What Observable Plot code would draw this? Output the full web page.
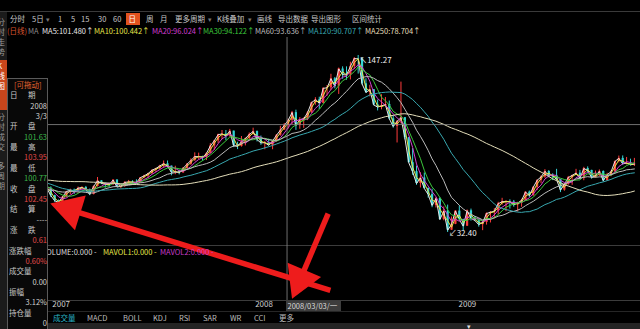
<!DOCTYPE html>
<html><head><meta charset="utf-8">
<script src="https://cdn.jsdelivr.net/npm/d3@7"></script>
<script src="https://cdn.jsdelivr.net/npm/@observablehq/plot@0.6"></script>
<style>
html,body{margin:0;padding:0;background:#000;overflow:hidden}
#root{position:relative;width:640px;height:329px;background:#000;overflow:hidden;font-family:"Noto Sans CJK SC","Noto Sans",sans-serif;color:#c8c8c8}
.t{position:absolute;white-space:nowrap;line-height:1;transform:translateY(-50%)}
.b{position:absolute}
#root svg{position:absolute;left:0;top:0}
</style></head><body><div id="root"></div><script>
// ---------------- data ----------------
// weekly closes of 2006 (only needed to warm up the long moving averages)
const closes2006 = [64.21,63.92,68.35,67.76,65.37,61.84,59.88,61.10,63.67,60.17,62.69,64.26,66.63,67.39,69.32,75.17,71.88,70.19,72.04,68.53,71.37,72.33,71.63,69.89,70.87,73.93,74.09,77.03,74.43,74.54,75.10,74.35,71.14,72.51,69.20,66.25,63.33,60.55,62.91,59.76,58.57,56.82,60.75,59.14,59.58,55.81,60.00,62.97,62.03,63.43,62.41,61.05];
// weekly candles, first week of 2007 .. Nov 2009
const weekOpen = [61.05,56.30,53.00,52.00,55.40,59.00,59.90,59.40,61.10,61.60,60.00,57.10,62.30,65.90,64.30,63.60,63.40,66.50,61.90,62.40,64.90,65.20,65.10,64.80,68.00,69.20,70.70,72.80,73.90,75.60,77.00,75.50,71.50,72.00,71.10,74.00,76.70,79.10,81.60,81.70,81.20,83.70,88.60,91.90,95.90,96.30,95.10,98.20,88.70,88.30,91.30,93.30,
96.00,97.90,92.70,90.60,90.70,89.00,91.80,95.50,98.80,101.80,105.20,110.20,101.80,105.60,106.20,110.10,116.70,118.50,116.30,126.00,126.30,132.20,127.40,138.50,134.90,134.60,140.20,145.30,145.10,128.90,123.30,125.10,115.20,113.80,114.60,115.50,106.20,101.20,104.60,106.90,93.90,77.70,71.90,64.20,67.80,61.00,57.00,49.90,54.40,40.80,46.30,33.90,
37.70,46.30,40.80,36.50,46.50,41.70,40.20,37.50,38.90,44.80,45.50,46.30,51.10,52.40,52.50,52.20,50.30,51.60,53.20,58.60,56.30,61.70,66.30,68.40,72.00,69.60,69.20,66.70,59.90,63.60,68.10,69.50,70.90,67.50,73.90,72.70,68.00,69.30,72.00,66.00,70.00,71.80,78.50,80.50,77.00,77.40,76.40];
const weekHigh = [62.00,56.60,53.50,55.80,59.10,60.50,60.60,61.90,62.10,62.30,60.60,62.60,68.10,66.00,64.50,64.00,66.60,66.50,63.50,65.30,66.20,66.00,66.60,68.10,69.60,70.80,72.90,74.10,76.00,78.80,78.80,75.50,75.40,72.90,74.60,77.20,80.20,84.10,83.90,81.90,84.10,90.10,92.20,96.20,98.60,98.60,99.30,98.20,91.00,94.70,93.70,97.00,
100.10,98.30,95.00,91.50,93.00,91.80,96.00,101.30,103.10,106.00,111.00,111.80,107.00,106.80,111.00,117.00,119.90,120.20,126.30,127.80,135.10,133.00,139.10,139.90,139.90,142.90,145.90,147.27,145.90,132.20,127.90,125.10,118.30,121.80,120.00,117.70,108.00,104.90,130.00,107.00,94.00,86.80,75.50,71.20,71.00,61.30,60.50,55.00,55.00,49.00,50.20,42.50,
46.60,49.60,41.00,47.00,47.60,42.80,40.90,39.90,45.10,46.00,47.90,52.00,54.60,53.10,53.60,53.20,52.00,54.00,58.70,59.30,62.20,66.40,69.10,73.20,72.60,70.50,73.40,66.90,64.00,68.80,69.50,73.40,72.70,74.70,75.00,72.80,72.30,73.00,72.40,70.80,72.30,78.70,82.00,82.10,81.10,80.00,80.50];
const weekLow = [55.10,51.90,49.90,51.30,55.00,56.90,57.10,58.00,60.20,59.60,56.30,56.80,61.90,63.50,61.20,61.70,63.00,61.40,60.90,61.70,63.10,63.10,64.10,64.40,67.20,67.40,70.10,71.20,73.00,74.10,74.20,69.20,69.90,69.80,70.80,73.50,76.00,78.50,79.60,78.70,79.10,83.30,85.60,90.20,92.60,92.00,94.30,87.50,86.20,87.80,88.60,92.60,
95.60,91.20,89.00,86.10,88.70,86.10,91.00,94.90,98.70,99.50,102.40,98.70,99.40,100.00,105.00,109.80,115.00,112.20,116.00,120.90,124.50,125.60,122.00,131.80,131.20,131.40,138.20,135.20,128.10,122.60,120.40,114.60,111.30,112.00,114.00,105.50,100.10,90.50,103.00,92.60,77.50,69.50,63.00,61.30,60.50,54.70,48.50,48.30,40.50,40.00,32.40,33.80,
37.50,40.50,33.20,36.30,39.80,39.50,35.90,33.60,37.20,38.60,41.20,44.00,50.10,45.90,47.60,48.80,45.70,48.80,52.70,55.20,56.00,59.70,64.10,67.60,67.90,66.10,66.50,58.30,59.20,63.10,63.00,69.30,67.00,66.00,70.90,67.00,67.80,68.80,65.10,65.90,68.60,71.40,77.60,76.00,76.30,75.60,75.20];
const weekClose = [56.31,52.99,51.99,55.42,59.02,59.89,59.39,61.14,61.64,60.05,57.11,62.28,65.87,64.28,63.63,63.38,66.46,61.93,62.37,64.94,65.20,65.08,64.76,68.00,69.18,70.68,72.81,73.93,75.57,77.02,75.48,71.47,71.98,71.09,74.04,76.70,79.10,81.62,81.66,81.22,83.69,88.60,91.86,95.93,96.32,95.10,98.18,88.71,88.28,91.27,93.31,96.00,
97.91,92.69,90.57,90.71,88.96,91.77,95.50,98.81,101.84,105.15,110.21,101.84,105.62,106.23,110.14,116.69,118.52,116.32,125.96,126.29,132.19,127.35,138.54,134.86,134.62,140.21,145.29,145.08,128.88,123.26,125.10,115.20,113.77,114.59,115.46,106.23,101.18,104.55,106.89,93.88,77.70,71.85,64.15,67.81,61.04,57.04,49.93,54.43,40.81,46.28,33.87,37.71,
46.34,40.83,36.51,46.47,41.68,40.17,37.51,38.94,44.76,45.52,46.25,51.06,52.38,52.51,52.24,50.33,51.55,53.20,58.63,56.34,61.67,66.31,68.44,72.04,69.55,69.16,66.73,59.89,63.56,68.05,69.45,70.93,67.51,73.89,72.74,68.02,69.29,72.04,66.02,69.95,71.77,78.53,80.50,77.00,77.43,76.35,76.72];
const firstWeek = "2006-01-04";          // Wednesday of the first week in the table

const maNames  = ["MA5","MA10","MA20","MA30","MA60","MA120","MA250"];
const maWeeks  = [1,2,4,6,12,24,50];     // daily windows expressed in weeks
const maValues = ["101.480","100.442","96.024","94.122","93.636","90.707","78.704"];

const crossDateStr = "2008-03-03";
const crossLabel = "2008/03/03/一";
const crossClose = 102.45;
const prevClose = 101.84;

const yearStarts = ["2007-01-02","2008-01-02","2009-01-02"];

const toolbarItems = ["分时","5日","▾","1","5","15","30","60","日","周","月","更多周期","▾","K线叠加","▾","画线","导出数据","导出图形","区间统计"];
const infoTitle = "[可拖动]";
const infoFields = [["日","期"],["开","盘"],["最","高"],["最","低"],["收","盘"],["结","算"],["涨","跌"],["涨跌幅"],["成交量"],["振幅"],["持仓量"]];
const infoValues = [["2008","3/3"],["101.63"],["103.95"],["100.77"],["102.45"],["----"],["0.61"],["0.60%"],["0.00"],["3.12%"],["0"]];
const volumeLegend = ["VOLUME:0.000 -","MAVOL1:0.000 -","MAVOL2:0.000 -"];
const tabs = ["成交量","MACD","BOLL","KDJ","RSI","SAR","WR","CCI","更多"];
const sideTabs = ["分时走势","K线图","分时成交","多周期"];

// annotation arrows (date, price units)
const arrowTails = [{x:"2008-05-20", y:-5.2},{x:"2008-05-16", y:44.7}];
const arrowTips  = [{x:"2007-01-02", y:51.2},{x:"2008-03-12", y:-10.6}];

// ---------------- layout / style ----------------
const W = 640, H = 329;
const mL = 47, mT = 37, mB = 84;
const UP = "#ff3c3c", DOWN = "#33d4d4", RED = "#ee1c1c";
const maColors = ["#e8e8e8","#e6e64a","#d23ed2","#3cc83c","#bcbcbc","#38a8b0","#e4deba"];
const toolbarX = [10,32,46,58,71,81,98,113,128.5,146,160,175,208,217,248,257,278,311,352];
const legendX = [42,94,152,203,255,308,365];
const tabX = [53,87,123,153,179,203,230,254,279];
const volX = [42,103,160];
const volColors = ["#dddddd","#e6e64a","#c93cc9"];
const HEAD_R = 13.5;

const root = document.getElementById("root");
function put(txt, x, y, color, size, extra) {
  const e = document.createElement("div");
  e.className = "t"; e.textContent = txt;
  Object.assign(e.style, {left: x + "px", top: y + "px", color, fontSize: size + "px"}, extra || {});
  root.appendChild(e); return e;
}
function box(x, y, w, h, bg, extra) {
  const e = document.createElement("div");
  e.className = "b";
  Object.assign(e.style, {left: x + "px", top: y + "px", width: w + "px", height: h + "px", background: bg}, extra || {});
  root.appendChild(e); return e;
}

// ---------------- table ----------------
const wk = d3.utcWednesday;
const N = closes2006.length + weekClose.length;
const start = new Date(firstWeek);
const dates = wk.range(start, wk.offset(start, N));
const rows = dates.map((date, i) => {
  const j = i - closes2006.length;
  return j < 0 ? {date, close: closes2006[i]}
               : {date, open: weekOpen[j], high: weekHigh[j], low: weekLow[j], close: weekClose[j]};
});
const candles = rows.filter(d => d.open != null);
const dir = d => d.close >= d.open ? UP : DOWN;

const xOpts = {type: "utc", domain: [new Date("2006-12-28"), new Date("2009-11-29")]};
const yOpts = {type: "linear", domain: [23.97, 158.95]};
const sx = Plot.scale({x: {...xOpts, range: [mL, W]}});
const sy = Plot.scale({y: {...yOpts, range: [H - mB, mT]}});

// arrows: shaft + filled triangular head computed through the scales
const HEAD_BACK = 1.555 * HEAD_R;   // centroid-to-tip distance of the triangle symbol
const shafts = [], heads = [];
arrowTails.forEach((t, i) => {
  const a = arrowTips[i];
  const X1 = sx.apply(new Date(t.x)), Y1 = sy.apply(t.y), X2 = sx.apply(new Date(a.x)), Y2 = sy.apply(a.y);
  const L = Math.hypot(X2 - X1, Y2 - Y1), ux = (X2 - X1) / L, uy = (Y2 - Y1) / L;
  const cx = sx.invert(X2 - ux * HEAD_BACK), cy = sy.invert(Y2 - uy * HEAD_BACK);
  shafts.push({x1: new Date(t.x), y1: t.y, x2: cx, y2: cy});
  heads.push({x: cx, y: cy, rotate: Math.atan2(ux, -uy) * 180 / Math.PI});
});

const marks = [
  Plot.ruleX(candles, {x: "date", y1: "low", y2: "high", stroke: dir, strokeWidth: 1, clip: true}),
  Plot.ruleX(candles, {x: "date", y1: "open", y2: "close", stroke: dir, strokeWidth: 2.2, clip: true}),
  ...maWeeks.map((k, i) => Plot.lineY(rows, Plot.windowY({k, anchor: "end"}, {x: "date", y: "close", stroke: maColors[i], strokeWidth: 1, clip: true}))),
  Plot.ruleX([new Date(crossDateStr)], {stroke: "#8a8a8a", strokeWidth: 0.8, insetBottom: -55}),
  Plot.ruleY([crossClose], {stroke: "#8a8a8a", strokeWidth: 0.8}),
  Plot.text(candles, Plot.selectMaxY({x: "date", y: "high", text: d => "↖" + d.high.toFixed(2), textAnchor: "start", dx: 1, dy: 5, fill: "#eeeeee", fontSize: 8})),
  Plot.text(candles, Plot.selectMinY({x: "date", y: "low", text: d => "↙" + d.low.toFixed(2), textAnchor: "start", dx: 1, dy: 1, fill: "#eeeeee", fontSize: 8})),
  Plot.axisX(yearStarts.map(d => new Date(d)), {anchor: "bottom", tickSize: 0, tickPadding: 56, textAnchor: "start", dx: 2, fontSize: 8, color: "#cfcfcf", tickFormat: d3.utcFormat("%Y")}),
  Plot.link(shafts, {x1: "x1", y1: "y1", x2: "x2", y2: "y2", stroke: RED, strokeWidth: 5.5}),
  Plot.dot(heads, {x: "x", y: "y", rotate: "rotate", symbol: "triangle", r: HEAD_R, fill: RED, stroke: "none"})
];

const chart = Plot.plot({
  width: W, height: H,
  marginLeft: mL, marginRight: 0, marginTop: mT, marginBottom: mB,
  x: xOpts, y: {...yOpts, axis: null},
  color: {type: "identity"},
  style: {background: "transparent", color: "#cfcfcf", fontFamily: "'Noto Sans CJK SC', sans-serif", overflow: "visible"},
  marks
});

// ---------------- chrome (drawn under the plot) ----------------
box(0, 11, W, 1, "#3a3a3a");
box(mL, 245, W - mL, 1, "#3c3c3c");
box(mL, 300, W - mL, 1, "#3c3c3c");
box(mL, 311, W - mL, 1, "#262626");
box(mL, 323, W - mL, 6, "#242424");
put("▾", 467, 326, "#dddddd", 7);

// crosshair date label (under the arrows)
const cx0 = sx.apply(new Date(crossDateStr));
box(cx0 - 1, 301, 55, 10, "#3d3d3d");
put(crossLabel, cx0 + 1, 306, "#d8d8d8", 7.5);

root.appendChild(chart);

// toolbar
toolbarItems.forEach((s, i) => {
  if (s === "日") {
    box(126, 13, 14, 12, "#e2521e");
    put(s, toolbarX[i], 19, "#ffffff", 7.5);
  } else put(s, toolbarX[i], 19, s === "▾" ? "#777" : "#c8c8c8", s === "▾" ? 7 : 7.5);
});
// MA legend
put("(日线)", 7, 31, "#d8532e", 7.5);
put("MA", 28, 31, "#8a8a8a", 7.5);
maNames.forEach((n, i) => put(n + ":" + maValues[i] + "↑", legendX[i], 31, maColors[i], 7.5));

// volume legend
volumeLegend.forEach((s, i) => put(s, volX[i], 252, volColors[i], 7.5));

// bottom tabs
tabs.forEach((s, i) => put(s, tabX[i], 318, i === 0 ? "#2ab4c8" : "#bdbdbd", 7.5));

// left side strip
box(0, 12, 7, 317, "#1b1b1b");
box(0, 60, 7, 50, "#c8461c");
const sideY = [22, 66, 117, 166];
sideTabs.forEach((s, i) => {
  [...s].forEach((ch, k) => put(ch, -3, sideY[i] + k * 10, i === 1 ? "#ffffff" : "#9a9a9a", 8));
});

// info panel
box(7, 78, 41, 260, "#080808", {border: "1px solid #5a5a5a", boxSizing: "border-box"});
const rowH = 10.35, row0 = 85;
put(infoTitle, 14, row0, "#e0602e", 7.5);
let r = 1;
const numColor = s => {
  const v = parseFloat(s);
  return v > prevClose ? "#e04848" : v < prevClose ? "#3cb84a" : "#d0d0d0";
};
infoFields.forEach((f, i) => {
  const y = row0 + r * rowH;
  if (f.length === 2) { put(f[0], 10, y, "#c8c8c8", 7.5); put(f[1], 28, y, "#c8c8c8", 7.5); }
  else put(f[0], 9, y, "#c8c8c8", 7.5);
  r++;
  infoValues[i].forEach(v => {
    let c = "#d0d0d0";
    if (i >= 1 && i <= 4) c = numColor(v);
    if (i === 6 || i === 7) c = parseFloat(v) > 0 ? "#e04848" : "#3cb84a";
    put(v, 0, row0 + r * rowH, c, 7.5, {left: "auto", right: (W - 47) + "px"});
    r++;
  });
});
// left arrow tip overlaps the info panel in the reference: redraw it on top
const overlay = chart.cloneNode(false);
</script></body></html>
